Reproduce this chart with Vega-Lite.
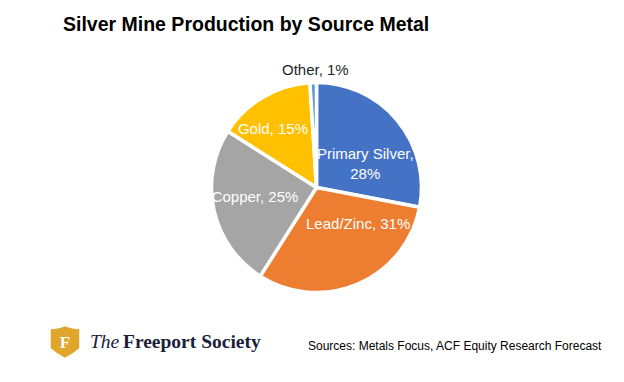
{
  "$schema": "https://vega.github.io/schema/vega-lite/v6.json",
  "width": 624,
  "height": 382,
  "autosize": {"type": "none"},
  "padding": 0,
  "background": "white",
  "config": {"view": {"stroke": null}},
  "title": {
    "text": "Silver Mine Production by Source Metal",
    "anchor": "start",
    "frame": "group",
    "orient": "top",
    "offset": -31,
    "baseline": "alphabetic",
    "dx": 63,
    "dy": 19,
    "font": "Liberation Sans, Arial",
    "fontWeight": "bold",
    "fontSize": 19.5,
    "color": "#000000"
  },
  "datasets": {
    "slices": [
      {"source": "Primary Silver", "share": 28, "rank": 1, "label": "Primary Silver,\n28%"},
      {"source": "Lead/Zinc", "share": 31, "rank": 2, "label": "Lead/Zinc, 31%"},
      {"source": "Copper", "share": 25, "rank": 3, "label": "Copper, 25%"},
      {"source": "Gold", "share": 15, "rank": 4, "label": "Gold, 15%"},
      {"source": "Other", "share": 1, "rank": 5, "label": "Other, 1%"}
    ],
    "brand": [{"mark": "F", "name": "The", "rest": "Freeport Society", "note": "Sources: Metals Focus, ACF  Equity Research Forecast"}]
  },
  "layer": [
    {
      "data": {"name": "slices"},
      "mark": {"type": "arc", "x": 316.5, "y": 187.5, "outerRadius": 105, "stroke": "white", "strokeWidth": 3.5},
      "encoding": {
        "theta": {"field": "share", "type": "quantitative", "stack": true},
        "order": {"field": "rank", "type": "quantitative"},
        "color": {
          "field": "source",
          "type": "nominal",
          "scale": {
            "domain": ["Primary Silver", "Lead/Zinc", "Copper", "Gold", "Other"],
            "range": ["#4472C4", "#ED7D31", "#A5A5A5", "#FFC000", "#5B9BD5"]
          },
          "legend": null
        }
      }
    },
    {
      "data": {"name": "slices"},
      "mark": {"type": "text", "x": 316.5, "y": 187.5, "radius": 62, "dx": 1, "dy": 6, "lineBreak": "\n", "lineHeight": 20, "font": "Liberation Sans, Arial", "fontSize": 15, "fill": "white", "align": "center", "baseline": "middle"},
      "encoding": {
        "theta": {"field": "share", "type": "quantitative", "stack": true},
        "order": {"field": "rank", "type": "quantitative"},
        "detail": {"field": "source", "type": "nominal"},
        "text": {"condition": {"test": "datum.source === 'Primary Silver'", "field": "label", "type": "nominal"}, "value": ""}
      }
    },
    {
      "data": {"name": "slices"},
      "mark": {"type": "text", "x": 316.5, "y": 187.5, "radius": 62, "dx": 17, "dy": -20, "font": "Liberation Sans, Arial", "fontSize": 15, "fill": "white", "align": "center", "baseline": "middle"},
      "encoding": {
        "theta": {"field": "share", "type": "quantitative", "stack": true},
        "order": {"field": "rank", "type": "quantitative"},
        "detail": {"field": "source", "type": "nominal"},
        "text": {"condition": {"test": "datum.source === 'Lead/Zinc'", "field": "label", "type": "nominal"}, "value": ""}
      }
    },
    {
      "data": {"name": "slices"},
      "mark": {"type": "text", "x": 316.5, "y": 187.5, "radius": 62, "dx": -1, "dy": -4, "font": "Liberation Sans, Arial", "fontSize": 15, "fill": "white", "align": "center", "baseline": "middle"},
      "encoding": {
        "theta": {"field": "share", "type": "quantitative", "stack": true},
        "order": {"field": "rank", "type": "quantitative"},
        "detail": {"field": "source", "type": "nominal"},
        "text": {"condition": {"test": "datum.source === 'Copper'", "field": "label", "type": "nominal"}, "value": ""}
      }
    },
    {
      "data": {"name": "slices"},
      "mark": {"type": "text", "x": 316.5, "y": 187.5, "radius": 62, "dx": -12, "dy": -5, "font": "Liberation Sans, Arial", "fontSize": 15, "fill": "white", "align": "center", "baseline": "middle"},
      "encoding": {
        "theta": {"field": "share", "type": "quantitative", "stack": true},
        "order": {"field": "rank", "type": "quantitative"},
        "detail": {"field": "source", "type": "nominal"},
        "text": {"condition": {"test": "datum.source === 'Gold'", "field": "label", "type": "nominal"}, "value": ""}
      }
    },
    {
      "data": {"name": "slices"},
      "mark": {"type": "text", "x": 316.5, "y": 187.5, "radius": 117, "dx": 2.5, "dy": -1, "font": "Liberation Sans, Arial", "fontSize": 15, "fill": "#1f1f1f", "align": "center", "baseline": "middle"},
      "encoding": {
        "theta": {"field": "share", "type": "quantitative", "stack": true},
        "order": {"field": "rank", "type": "quantitative"},
        "detail": {"field": "source", "type": "nominal"},
        "text": {"condition": {"test": "datum.source === 'Other'", "field": "label", "type": "nominal"}, "value": ""}
      }
    },
    {
      "data": {"name": "brand"},
      "mark": {"type": "point", "x": 65, "y": 342, "size": 1000, "filled": true, "fill": "#E0A52B", "opacity": 1, "strokeWidth": 0, "shape": "M-0.9,-0.82 Q-0.45,-0.78 0,-1 Q0.45,-0.78 0.9,-0.82 L0.9,0.4 Q0.5,0.75 0,1 Q-0.5,0.75 -0.9,0.4 Z"},
      "encoding": {}
    },
    {
      "data": {"name": "brand"},
      "mark": {"type": "text", "x": 65, "y": 343, "font": "Liberation Serif, DejaVu Serif", "fontWeight": "bold", "fontSize": 17, "fill": "white", "align": "center", "baseline": "middle"},
      "encoding": {"text": {"field": "mark", "type": "nominal"}}
    },
    {
      "data": {"name": "brand"},
      "mark": {"type": "text", "x": 90, "y": 348, "font": "Liberation Serif, DejaVu Serif", "fontStyle": "italic", "fontSize": 19.5, "fill": "#1B1E38", "align": "left", "baseline": "alphabetic"},
      "encoding": {"text": {"field": "name", "type": "nominal"}}
    },
    {
      "data": {"name": "brand"},
      "mark": {"type": "text", "x": 123, "y": 348, "font": "Liberation Serif, DejaVu Serif", "fontWeight": "bold", "fontSize": 19.5, "fill": "#1B1E38", "align": "left", "baseline": "alphabetic"},
      "encoding": {"text": {"field": "rest", "type": "nominal"}}
    },
    {
      "data": {"name": "brand"},
      "mark": {"type": "text", "x": 308, "y": 350, "font": "Liberation Sans, Arial", "fontSize": 12, "fill": "#000000", "align": "left", "baseline": "alphabetic"},
      "encoding": {"text": {"field": "note", "type": "nominal"}}
    }
  ]
}
